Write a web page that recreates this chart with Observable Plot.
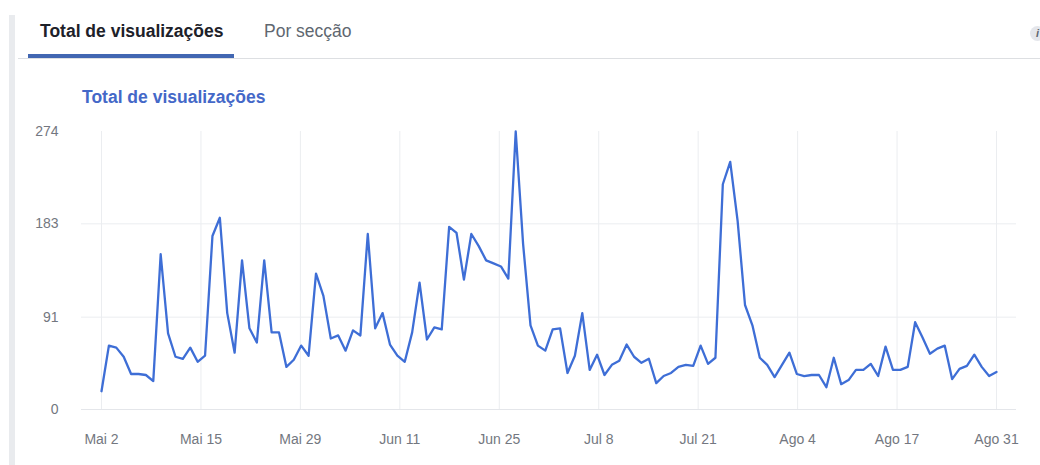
<!DOCTYPE html>
<html>
<head>
<meta charset="utf-8">
<script src="https://cdn.jsdelivr.net/npm/d3@7"></script>
<script src="https://cdn.jsdelivr.net/npm/@observablehq/plot@0.6"></script>
<style>
html, body { margin: 0; padding: 0; background: #fff; }
body { width: 1040px; height: 465px; position: relative; overflow: hidden; font-family: "Liberation Sans", Arial, sans-serif; }
#chart { position: absolute; left: 0; top: 0; }
#leftbar { position: absolute; left: 9px; top: 15px; width: 6px; height: 450px; background: #e9ebee; }
#sep { position: absolute; left: 18px; top: 58px; width: 1022px; height: 1px; background: #dddfe2; }
#tabline { position: absolute; left: 28px; top: 54px; width: 206px; height: 4px; background: #4267b2; }
.tab { position: absolute; top: 21px; font-size: 17.5px; white-space: nowrap; }
#tab1 { left: 40px; font-weight: bold; color: #1d2129; }
#tab2 { left: 264px; color: #606770; }
#title { position: absolute; left: 82px; top: 87px; font-size: 17.5px; font-weight: bold; color: #4468c8; white-space: nowrap; }
#info { position: absolute; left: 1030px; top: 26px; width: 15px; height: 15px; border-radius: 50%; background: #e4e6eb; color: #606770; font-size: 11px; font-weight: bold; font-style: italic; text-align: center; line-height: 15px; }
</style>
</head>
<body>
<div id="chart"></div>
<div id="leftbar"></div>
<div id="sep"></div>
<div id="tabline"></div>
<div class="tab" id="tab1">Total de visualizações</div>
<div class="tab" id="tab2">Por secção</div>
<div id="info">i</div>
<div id="title">Total de visualizações</div>
<script>
// Daily views, Mai 2 .. Ago 31 (122 days)
const views = [18,63,61,52,35,35,34,28,153,75,52,50,61,47,53,171,189,95,56,147,80,66,147,76,76,42,49,63,53,134,
  112,70,73,58,78,73,173,80,95,64,53,47,76,125,69,81,79,180,174,128,173,161,147,144,141,129,274,163,83,63,
  58,79,80,36,53,95,39,54,34,44,48,64,52,46,50,26,33,36,42,44,43,63,45,51,222,244,186,103,83,51,
  44,32,44,56,35,33,34,34,22,51,25,29,39,39,45,33,62,39,39,42,86,71,55,60,63,30,40,43,54,42,
  33,37];
const tickLabels = ["Mai 2","Mai 15","Mai 29","Jun 11","Jun 25","Jul 8","Jul 21","Ago 4","Ago 17","Ago 31"];
const yTicks = [0, 91, 183, 274];
const yGrid = [0, 91, 183];

const data = views.map((v, i) => ({day: i, value: v}));
const lastDay = views.length - 1;
const xTicks = tickLabels.map((_, i) => i * lastDay / (tickLabels.length - 1));

const chart = Plot.plot({
  width: 1040,
  height: 465,
  marginTop: 131,
  marginBottom: 56,
  marginLeft: 81,
  marginRight: 24,
  style: {background: "transparent", fontFamily: "Liberation Sans, Arial, sans-serif", fontSize: "14px", color: "#737780"},
  x: {domain: [0, lastDay], insetLeft: 20, insetRight: 20},
  y: {domain: [0, 274]},
  marks: [
    Plot.gridX(xTicks, {stroke: "#ebedf0", strokeOpacity: 1, strokeWidth: 1}),
    Plot.gridY(yGrid, {stroke: "#ebedf0", strokeOpacity: 1, strokeWidth: 1}),
    Plot.ruleY([0], {stroke: "#e4e6ea", strokeWidth: 1}),
    Plot.axisY(yTicks, {tickSize: 0, tickPadding: 23, label: null, fill: "#737780"}),
    Plot.axisX(xTicks, {tickSize: 0, tickPadding: 25, label: null, fill: "#737780", tickFormat: (d, i) => tickLabels[i]}),
    Plot.line(data, {x: "day", y: "value", stroke: "#3e6ed6", strokeWidth: 2.3, strokeLinejoin: "round"})
  ]
});
document.getElementById("chart").append(chart);
</script>
</body>
</html>
